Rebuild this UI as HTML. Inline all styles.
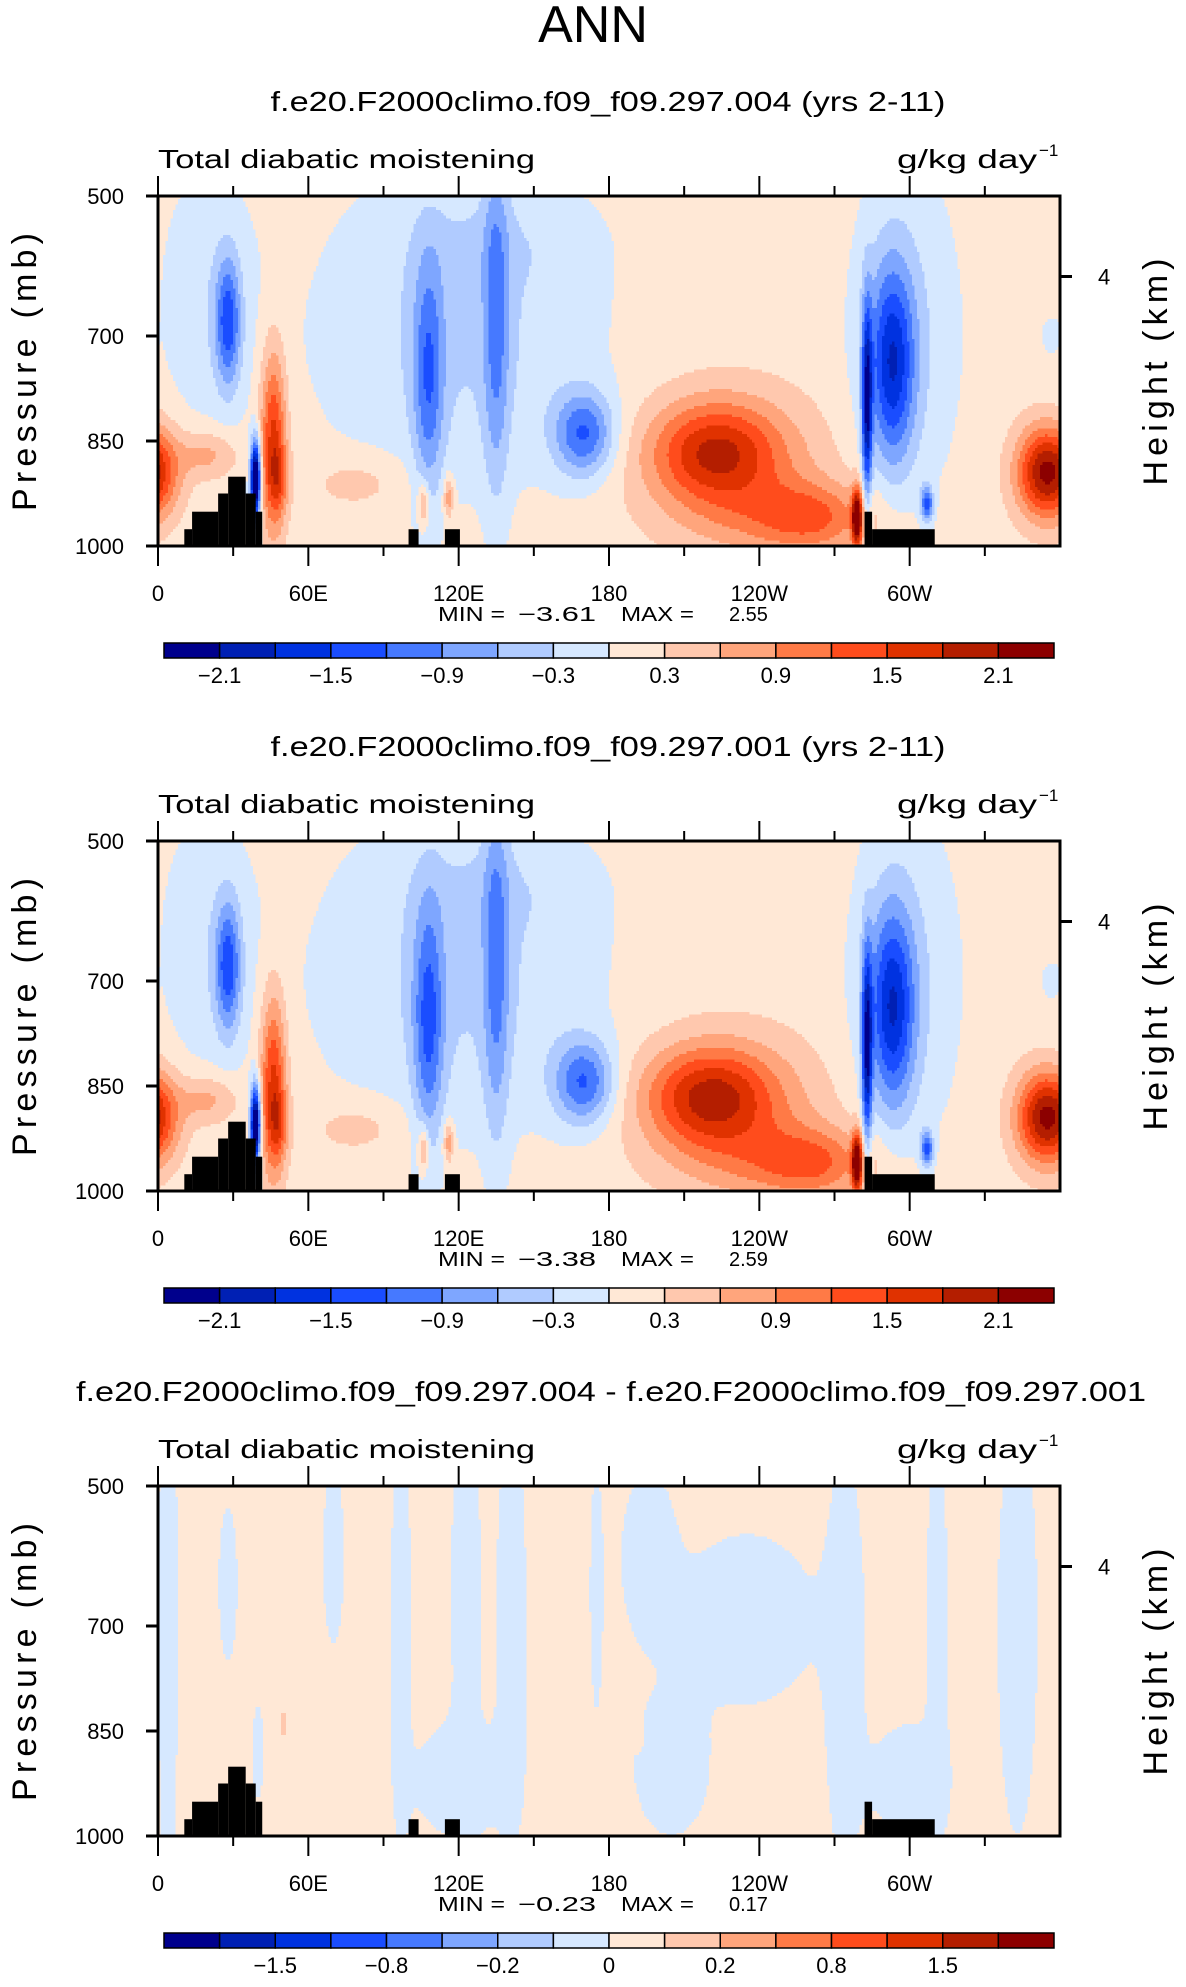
<!DOCTYPE html>
<html><head><meta charset="utf-8">
<style>
html,body{margin:0;padding:0;background:#fff;}
svg{display:block;font-family:"Liberation Sans","DejaVu Sans",sans-serif;}
</style></head>
<body>
<svg id="chart" width="1186" height="1987" viewBox="0 0 1186 1987" xmlns="http://www.w3.org/2000/svg">
<text x="593" y="42" font-size="52" text-anchor="middle" fill="#000">ANN</text>
</svg>
<script>
// ---- data ----
const panelTitles = ["f.e20.F2000climo.f09_f09.297.004 (yrs 2-11)", "f.e20.F2000climo.f09_f09.297.001 (yrs 2-11)", "f.e20.F2000climo.f09_f09.297.004 - f.e20.F2000climo.f09_f09.297.001"];
const minVals = ["\u22123.61", "\u22123.38", "\u22120.23"];
const maxVals = ["2.55", "2.59", "0.17"];
const levelsAbs = [-2.1,-1.8,-1.5,-1.2,-0.9,-0.6,-0.3,0,0.3,0.6,0.9,1.2,1.5,1.8,2.1];
const levelsDiff = [-2,-1.5,-1,-0.8,-0.6,-0.4,-0.2,0,0.2,0.4,0.6,0.8,1,1.5,2];
const labelsAbs = ["\u22122.1","\u22121.5","\u22120.9","\u22120.3","0.3","0.9","1.5","2.1"];
const labelsAbsIdx = [0,2,4,6,8,10,12,14];
const labelsDiff = ["\u22121.5","\u22120.8","\u22120.2","0","0.2","0.8","1.5"];
const labelsDiffIdx = [1,3,5,7,9,11,13];
const colors = ["#00008c","#0020b4","#0032e0","#1a4dff","#4679ff","#7ea6ff","#b0cbff","#d6e8ff","#ffe8d6","#ffc8ae","#ffa57c","#ff7a46","#ff4c1c","#e03200","#b41e00","#8c0000"];
const lonTicks = [0,60,120,180,240,300];
const lonTickLabels = ["0","60E","120E","180","120W","60W"];
const presTicks = [500,700,850,1000];
// Gaussian features: [lon, pressure, lonWidth, presWidth, amplitude]
const bg1 = 0.15;
const blobs1 = [
 [355,895,12,65,2.1],[20,650,20,200,-0.35],[28,680,5,90,-1.3],[46,850,5,130,1.5],[48,905,4,50,0.6],
 [39,905,2,55,-3.2],[20,870,12,35,0.6],[120,700,55,220,-0.5],[135,560,40,80,-0.2],[108,760,6,170,-1.0],
 [135,680,5,250,-0.8],[170,840,12,60,-1.3],[222,865,25,70,1.25],[262,960,22,50,0.7],[230,890,38,110,0.6],
 [250,960,35,50,0.4],[279,960,2,40,2.4],[293,740,9,140,-1.6],[283,800,2,140,-2.0],[298,700,22,250,-0.45],[307,940,2.5,25,-1.4],
 [80,910,20,40,0.35],[106,940,2,30,0.8],[116,930,2,30,0.8],[356,700,3,20,-0.3]
];
const bg2 = 0.15;
const blobs2 = [
 [355,895,12,65,2.1],[20,650,20,200,-0.35],[28,680,5,90,-1.3],[46,850,5,130,1.5],[48,905,4,50,0.6],
 [39,905,2,55,-3.0],[20,870,12,35,0.6],[120,700,55,220,-0.5],[135,560,40,80,-0.2],[108,760,6,170,-1.1],
 [135,680,5,250,-0.8],[170,845,12,60,-1.3],[220,865,25,70,1.35],[262,960,22,50,0.7],[230,890,38,110,0.6],
 [250,960,35,50,0.4],[279,960,2,40,2.4],[293,740,9,140,-1.6],[283,800,2,140,-2.0],[298,700,22,250,-0.45],[307,940,2.5,25,-1.4],
 [80,910,20,40,0.35],[106,940,2,30,0.8],[116,930,2,30,0.8],[356,700,3,20,-0.3]
];
const bg3 = 0.03;
const blobs3 = [
 [4,700,4,400,-0.08],[28,640,4,120,-0.07],[70,600,5,150,-0.06],[97,700,4,300,-0.08],[123,650,6,250,-0.08],
 [141,700,6,300,-0.08],[175,650,3,200,-0.06],[196,600,11,120,-0.08],[235,690,25,110,-0.1],[274,750,8,300,-0.08],
 [311,700,4,300,-0.08],[343,700,8,300,-0.08],[120,920,18,80,-0.08],[205,900,15,100,-0.08],[300,920,15,80,-0.08],
 [50,840,3,50,0.19],[192,855,1.5,15,0.15],[40,880,2,60,-0.1]
];
// topography (black mask): lon start, lon end, top pressure
const topoLon0 = [10.5,13.6,24,28,35,39,100,114.5,282,285];
const topoLon1 = [13.6,24,28,35,39,41.6,104,120.5,285,310];
const topoP = [976,951,925,901,925,951,976,976,951,976];

// ---- layout ----
const NS = "http://www.w3.org/2000/svg";
const svg = document.getElementById("chart");
const X0 = 158, X1 = 1060, PH = 350, OFF = 645, TOP = 196;
function mk(tag, attrs, parent){ const e = document.createElementNS(NS, tag); for (const k in attrs) e.setAttribute(k, attrs[k]); (parent||svg).appendChild(e); return e; }
function xOf(lon){ return X0 + (X1 - X0) * lon / 360; }
function yOf(p, y0){ return y0 + PH * (p - 500) / 500; }
function field(lon, p, blobs, bg){
  let v = bg;
  for (const b of blobs){
    let d = Math.abs(lon - b[0]); if (d > 180) d = 360 - d;
    v += b[4] * Math.exp(-(d/b[2])*(d/b[2]) - ((p-b[1])/b[3])*((p-b[1])/b[3]));
  }
  return v;
}
function idx(v, lev){ let i = 0; while (i < lev.length && v >= lev[i]) i++; return i; }

function panel(k, blobs, bg, lev, labs, labIdx){
  const y0 = TOP + k*OFF, y1 = y0 + PH;
  const g = mk("g", {});
  
  
  const t = mk("text", {x: k==2?611:608, y: y0-85, "font-size": 28, "text-anchor":"middle", textLength: k==2?1070:675, lengthAdjust:"spacingAndGlyphs"}, g);
  t.textContent = panelTitles[k];
  
  
  const st = mk("text", {x: 158, y: y0-28, "font-size": 26, textLength: 377, lengthAdjust:"spacingAndGlyphs"}, g);
  st.textContent = "Total diabatic moistening";
  
  
  const un = mk("text", {x: 897, y: y0-28, "font-size": 26, textLength: 140, lengthAdjust:"spacingAndGlyphs"}, g);
  un.textContent = "g/kg day";
  
  
  const sup = mk("text", {x: 1039, y: y0-40, "font-size": 17}, g);
  sup.textContent = "\u22121";
  
  
  // contour cells
  const cg = mk("g", {"shape-rendering":"crispEdges"}, g);
  
  
  const dl = 1, dp = 4;
  for (let p = 500; p < 1000; p += dp){
    let start = 0, cur = idx(field(0.5, p+dp/2, blobs, bg), lev);
    for (let lon = dl; lon <= 360; lon += dl){
      const c = lon < 360 ? idx(field(lon+0.5, p+dp/2, blobs, bg), lev) : -1;
      if (c !== cur){
        const r = mk("rect", {x: xOf(start), y: yOf(p, y0), width: xOf(lon)-xOf(start)+0.6, height: PH*dp/500+0.6, fill: colors[cur]}, cg);
        
        
        start = lon; cur = c;
      }
    }
  }
  for (let i = 0; i < topoP.length; i++){
    const r = mk("rect", {x: xOf(topoLon0[i]), y: yOf(topoP[i], y0), width: xOf(topoLon1[i])-xOf(topoLon0[i]), height: yOf(1000,y0)-yOf(topoP[i],y0), fill:"#000"}, g);
    
    
  }
  const fr = mk("rect", {x: X0, y: y0, width: X1-X0, height: PH, fill:"none", stroke:"#000", "stroke-width":3}, g);
  
  
  // lon ticks
  for (let lon = 0; lon < 360; lon += 30){
    const major = lon % 60 === 0, L = major ? 20 : 10, x = xOf(lon);
    const a = mk("line", {x1:x, x2:x, y1:y0, y2:y0-L, stroke:"#000", "stroke-width":2}, g);
    
    
    const b = mk("line", {x1:x, x2:x, y1:y1, y2:y1+L, stroke:"#000", "stroke-width":2}, g);
    
    
  }
  lonTicks.forEach((lon, i) => {
    const tl = mk("text", {x: xOf(lon), y: y1+55, "font-size": 22, "text-anchor":"middle"}, g);
    tl.textContent = lonTickLabels[i];
    
    
  });
  presTicks.forEach(p => {
    const y = yOf(p, y0);
    const l = mk("line", {x1:X0-12, x2:X0, y1:y, y2:y, stroke:"#000", "stroke-width":3}, g);
    
    
    const tl = mk("text", {x: 124, y: y+8, "font-size": 22, "text-anchor":"end"}, g);
    tl.textContent = String(p);
    
    
  });
  const hy = yOf(615, y0);
  const hl = mk("line", {x1:X1, x2:X1+12, y1:hy, y2:hy, stroke:"#000", "stroke-width":3}, g);
  
  
  const ht = mk("text", {x: 1098, y: hy+8, "font-size": 22}, g);
  ht.textContent = "4";
  
  
  const ya = mk("text", {x: 0, y: 0, "font-size": 34, "text-anchor":"middle", textLength: 278, lengthAdjust:"spacing", transform:`translate(36,${y0+176}) rotate(-90)`}, g);
  ya.textContent = "Pressure (mb)";
  
  
  const ra = mk("text", {x: 0, y: 0, "font-size": 34, "text-anchor":"middle", textLength: 227, lengthAdjust:"spacing", transform:`translate(1167,${y0+176}) rotate(-90)`}, g);
  ra.textContent = "Height (km)";
  
  
  const mm = [["MIN =",438,67],[minVals[k],518,78],["MAX =",621,73],[maxVals[k],729,null]];
  mm.forEach(m => {
    const a = {x: m[1], y: y1+75, "font-size": 20};
    if (m[2]) { a.textLength = m[2]; a.lengthAdjust = "spacingAndGlyphs"; }
    const tx = mk("text", a, g);
    tx.textContent = m[0];
    
    
  });
  // colorbar
  const cbx = 164, cbw = (1054-164)/16, cby = y1+97;
  colors.forEach((c, i) => {
    const r = mk("rect", {x: cbx+i*cbw, y: cby, width: cbw, height: 15, fill: c, stroke:"#000", "stroke-width":1.5}, g);
    
    
  });
  labs.forEach((s, i) => {
    const tl = mk("text", {x: cbx + (labIdx[i]+1)*cbw, y: cby+40, "font-size": 22, "text-anchor":"middle"}, g);
    tl.textContent = s;
    
    
  });
}
panel(0, blobs1, bg1, levelsAbs, labelsAbs, labelsAbsIdx);
panel(1, blobs2, bg2, levelsAbs, labelsAbs, labelsAbsIdx);
panel(2, blobs3, bg3, levelsDiff, labelsDiff, labelsDiffIdx);
</script>
</body></html>
